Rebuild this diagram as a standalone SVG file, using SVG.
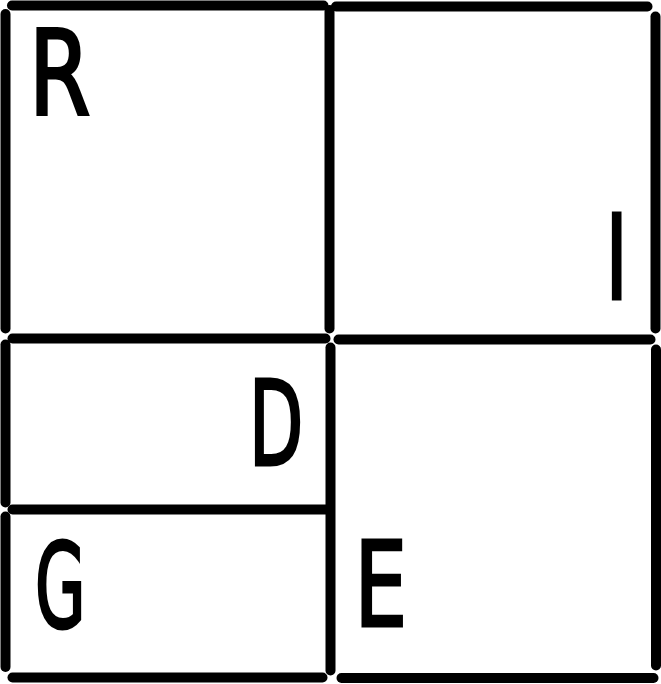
<svg xmlns="http://www.w3.org/2000/svg" width="661" height="684" viewBox="0 0 661 684">
<style>
.ln{fill:none;stroke:#000;stroke-width:10;stroke-linecap:round}
.lt{font-family:"DejaVu Sans Condensed","DejaVu Sans",sans-serif;font-size:117px;fill:#000;stroke:#000;stroke-width:3;stroke-linejoin:miter}
</style>
<rect width="661" height="684" fill="#fff"/>
<g id="connectors">
<path class="ln" d="M12,5.5H323.5"/>
<path class="ln" d="M336,6.5H647.5"/>
<path class="ln" d="M5.5,14V328.5"/>
<path class="ln" d="M329.5,10V328.5"/>
<path class="ln" d="M655.5,16.5V328.5"/>
<path class="ln" d="M12.5,338.5H325.5"/>
<path class="ln" d="M338.5,339.5H650.5"/>
<path class="ln" d="M5.5,344.5V502.5"/>
<path class="ln" d="M330.5,347.5V670.5"/>
<path class="ln" d="M656,349.5V665.5"/>
<path class="ln" d="M12.5,509.5H327.5"/>
<path class="ln" d="M5.5,516.5V667"/>
<path class="ln" d="M12.5,677.5H322.5"/>
<path class="ln" d="M341.5,678H653.5"/>
</g>
<g id="R"><text class="lt" transform="translate(29,113.5) scale(0.84,1)">R</text></g>
<g id="I"><text class="lt" transform="translate(605.4,298.5) scale(0.72,1)">I</text></g>
<g id="D"><text class="lt" transform="translate(249,465) scale(0.67,1)">D</text></g>
<g id="G"><text class="lt" transform="translate(35,626.5) scale(0.62,1)">G</text></g>
<g id="E"><text class="lt" transform="translate(354.5,625.5) scale(0.79,1)">E</text></g>
</svg>
